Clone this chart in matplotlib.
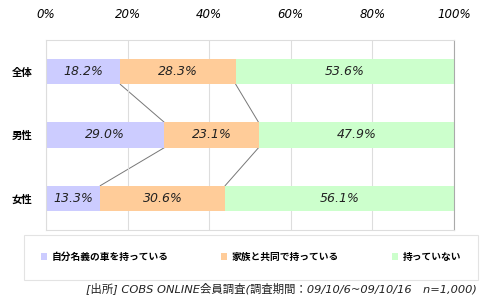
import numpy as np
import matplotlib.pyplot as plt

plt.rcParams['font.family'] = ['Noto Sans CJK JP', 'DejaVu Sans']

# 車の所有状況（全体・男性・女性）
groups = ['全体', '男性', '女性']
own = [18.2, 29.0, 13.3]          # 自分名義の車を持っている
family = [28.3, 23.1, 30.6]       # 家族と共同で持っている
none = [53.6, 47.9, 56.1]         # 持っていない
series_names = ['自分名義の車を持っている', '家族と共同で持っている', '持っていない']
colors = ['#ccccff', '#ffcc99', '#ccffcc']
ticks = [0, 20, 40, 60, 80, 100]
source = '[出所] COBS ONLINE会員調査(調査期間：09/10/6~09/10/16　n=1,000)'

fig = plt.figure(figsize=(4.85, 3.02), dpi=100)
ax = fig.add_axes([46 / 485, 72 / 302, 408 / 485, 190 / 302])

data = np.array([own, family, none])
y = np.arange(len(groups))
h = 0.4
left = np.zeros(len(groups))
for vals, name, c in zip(data, series_names, colors):
    bars = ax.barh(y, vals, left=left, height=h, color=c, label=name, zorder=2)
    for b, v in zip(bars, vals):
        ax.text(b.get_x() + b.get_width() / 2, b.get_y() + h / 2, f'{v:.1f}%',
                ha='center', va='center', fontsize=9, style='italic',
                family='DejaVu Sans', color='#222222', zorder=3)
    left = left + vals

# 区切り線
cum = np.cumsum(data, axis=0)
for i in range(len(groups) - 1):
    for k in range(2):
        ax.plot([cum[k, i], cum[k, i + 1]], [i + h / 2, i + 1 - h / 2],
                color='#777777', lw=0.7, zorder=1)

ax.set_xlim(0, 100)
ax.set_ylim(2.5, -0.5)
ax.set_yticks(y)
ax.set_yticklabels(groups, fontsize=7.5, fontweight='bold')
ax.set_xticks(ticks)
ax.set_xticklabels([f'{t}%' for t in ticks], fontsize=8.5, style='italic',
                   family='DejaVu Sans')
ax.xaxis.tick_top()
ax.tick_params(axis='x', length=0, pad=14)
ax.tick_params(axis='y', length=0, pad=10)
ax.grid(axis='x', color='#dddddd', lw=0.8, zorder=0)
for s in ax.spines.values():
    s.set_color('#dddddd')
ax.spines['right'].set_color('#aaaaaa')

leg = fig.legend(loc='center', bbox_to_anchor=(251 / 485, 1 - 257 / 302),
                 ncol=3, frameon=True, fancybox=False, edgecolor='#dddddd',
                 handlelength=0.6, handleheight=0.6, handletextpad=0.5,
                 columnspacing=5.4, borderpad=1.8,
                 prop={'weight': 'bold', 'size': 7})
leg.get_frame().set_linewidth(0.8)

fig.text(477 / 485, 1 - 288 / 302, source, ha='right', va='center', fontsize=8.2,
         style='italic', color='#222222', family=['DejaVu Sans', 'Noto Sans CJK JP'])

fig.savefig('out.png', dpi=100)
